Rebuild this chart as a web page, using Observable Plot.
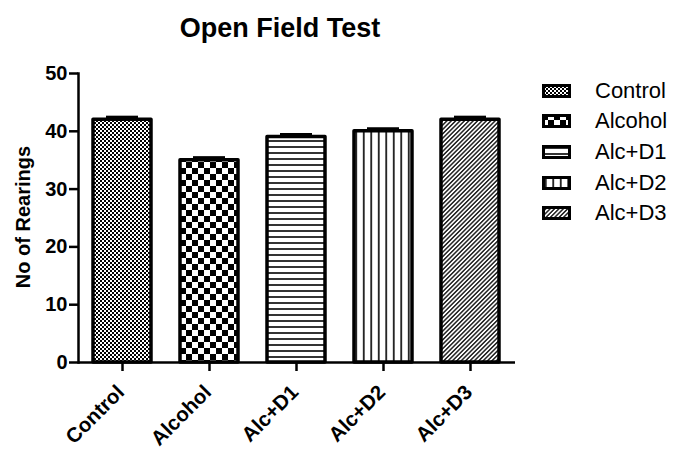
<!DOCTYPE html>
<html>
<head>
<meta charset="utf-8">
<script src="https://cdn.jsdelivr.net/npm/d3@7"></script>
<script src="https://cdn.jsdelivr.net/npm/@observablehq/plot@0.6"></script>
<style>
  html, body { margin: 0; padding: 0; background: #fff; }
  #wrap { position: relative; width: 673px; height: 449px; font-family: Arial, "Liberation Sans", sans-serif; color: #000; }
  #title { position: absolute; left: 0; top: 15px; width: 560px; text-align: center; font-size: 27px; font-weight: bold; line-height: 27px; }
  #ylabel { position: absolute; left: -77px; top: 207px; width: 200px; height: 20px; text-align: center; font-size: 20px; font-weight: bold; line-height: 20px; transform: rotate(-90deg); transform-origin: 50% 50%; }
  #legend { position: absolute; left: 542px; top: 0; }
  .row { position: absolute; left: 0; height: 30px; display: flex; align-items: center; white-space: nowrap; }
  .row svg { display: block; }
  .row span { margin-left: 24px; font-size: 22px; line-height: 22px; }
</style>
</head>
<body>
<div id="wrap">
  <div id="chart"></div>
  <div id="title"></div>
  <div id="ylabel"></div>
  <div id="legend"></div>
</div>
<script>
const categories = ["Control", "Alcohol", "Alc+D1", "Alc+D2", "Alc+D3"];
const values = [42, 35, 39, 40, 42];
const errors = [0.4, 0.4, 0.4, 0.4, 0.4];
const yTicks = [0, 10, 20, 30, 40, 50];
const titleText = "Open Field Test";
const yLabelText = "No of Rearings";

const patternIds = ["pat-control", "pat-alcohol", "pat-d1", "pat-d2", "pat-d3"];
const data = categories.map((c, i) => ({cat: c, value: values[i], err: errors[i], pat: `url(#${patternIds[i]})`}));

const chart = Plot.plot({
  width: 673,
  height: 449,
  marginLeft: 78,
  marginRight: 158,
  marginTop: 73,
  marginBottom: 87,
  style: {fontFamily: "Arial, 'Liberation Sans', sans-serif", background: "transparent", color: "#000", overflow: "visible"},
  x: {domain: categories, paddingInner: 0.33, paddingOuter: 0.17, axis: null},
  y: {domain: [0, 50], axis: null},
  color: {type: "identity"},
  marks: [
    Plot.barY(data, {x: "cat", y: "value", fill: "pat", stroke: "#000", strokeWidth: 3.5, strokeLinejoin: "round"}),
    Plot.ruleX(data, {x: "cat", y1: "value", y2: d => d.value + d.err, stroke: "#000", strokeWidth: 3}),
    Plot.tickY(data, {x: "cat", y: d => d.value + d.err, stroke: "#000", strokeWidth: 3.5, insetLeft: 13, insetRight: 13}),
    Plot.axisY({ticks: yTicks, tickSize: 9, tickPadding: 2, fontSize: 20, fontWeight: "bold", label: null, strokeWidth: 2.5}),
    Plot.axisX({tickSize: 9, tickFormat: () => "", label: null, strokeWidth: 2.5}),
    Plot.text(data, {x: "cat", frameAnchor: "bottom", text: "cat", rotate: -45, textAnchor: "end", lineAnchor: "bottom", dx: 3, dy: 31, fontSize: 20.5, fontWeight: "bold"}),
    Plot.frame({anchor: "left", strokeWidth: 2.5}),
    Plot.ruleY([0], {strokeWidth: 2.5})
  ]
});

// pattern definitions
const svgSel = d3.select(chart);
const defs = svgSel.insert("defs", ":first-child");
function pat(id, w, h) {
  const p = defs.append("pattern").attr("id", id).attr("patternUnits", "userSpaceOnUse").attr("width", w).attr("height", h);
  p.append("rect").attr("width", w).attr("height", h).attr("fill", "#fff");
  return p;
}
let p = pat("pat-control", 4, 4);
p.append("rect").attr("x", 0).attr("y", 0).attr("width", 2).attr("height", 2).attr("fill", "#000");
p.append("rect").attr("x", 2).attr("y", 2).attr("width", 2).attr("height", 2).attr("fill", "#000");
p = pat("pat-alcohol", 12, 12);
p.append("rect").attr("x", 0).attr("y", 0).attr("width", 6).attr("height", 6).attr("fill", "#000");
p.append("rect").attr("x", 6).attr("y", 6).attr("width", 6).attr("height", 6).attr("fill", "#000");
p = pat("pat-d1", 6, 6);
p.append("line").attr("x1", 0).attr("x2", 6).attr("y1", 3).attr("y2", 3).attr("stroke", "#000").attr("stroke-width", 1.6);
p = pat("pat-d2", 7.5, 7.5);
p.append("line").attr("x1", 3.75).attr("x2", 3.75).attr("y1", 0).attr("y2", 7.5).attr("stroke", "#000").attr("stroke-width", 1.6);
p = pat("pat-d3", 3.1, 10);
p.attr("patternTransform", "rotate(45)");
p.append("line").attr("x1", 1.55).attr("x2", 1.55).attr("y1", 0).attr("y2", 10).attr("stroke", "#000").attr("stroke-width", 1.3);

document.getElementById("chart").appendChild(chart);
document.getElementById("title").textContent = titleText;
document.getElementById("ylabel").textContent = yLabelText;

const legend = document.getElementById("legend");
const rowCenters = [90.5, 121, 152, 182.5, 213];
categories.forEach((c, i) => {
  const row = document.createElement("div");
  row.className = "row";
  row.style.top = (rowCenters[i] - 15) + "px";
  row.innerHTML = `<svg width="29" height="14"><rect x="1.5" y="1.5" width="26" height="11" fill="url(#${patternIds[i]})" stroke="#000" stroke-width="3"/></svg><span>${c}</span>`;
  legend.appendChild(row);
});
</script>
</body>
</html>
